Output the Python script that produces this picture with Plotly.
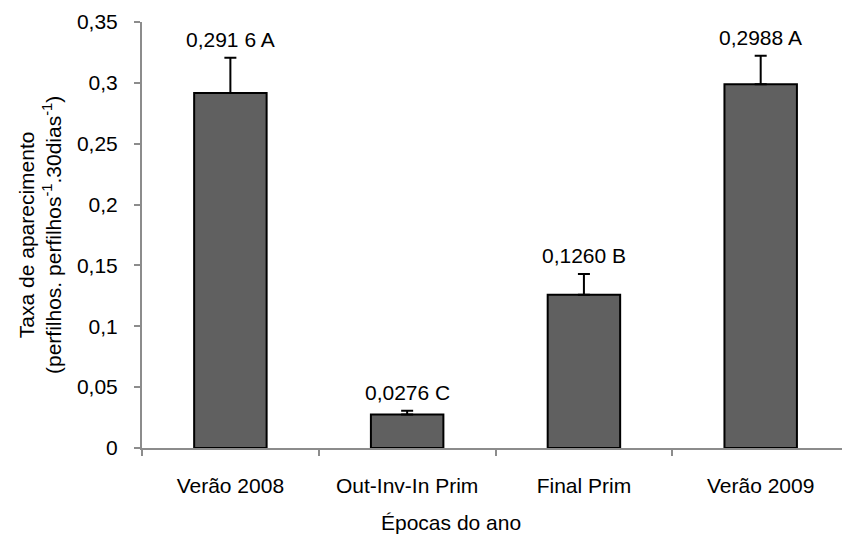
import plotly.graph_objects as go

categories = ["Verão 2008", "Out-Inv-In Prim", "Final Prim", "Verão 2009"]
values = [0.2916, 0.0276, 0.1260, 0.2988]
errors = [0.029, 0.003, 0.017, 0.0235]
bar_labels = ["0,291 6 A", "0,0276 C", "0,1260 B", "0,2988 A"]
y_tickvals = [0, 0.05, 0.1, 0.15, 0.2, 0.25, 0.3, 0.35]
y_ticktext = ["0", "0,05", "0,1", "0,15", "0,2", "0,25", "0,3", "0,35"]

FONT = "Liberation Sans, Arial, sans-serif"
FS = 21
W, H = 842, 543
L, T, B = 142, 22, 95

fig = go.Figure()
fig.add_trace(go.Bar(
    x=categories, y=values, width=0.41,
    marker=dict(color="#606060", line=dict(color="#000000", width=2)),
    error_y=dict(type="data", array=errors, visible=True, symmetric=False,
                 arrayminus=[0]*len(errors), color="#000000", thickness=2, width=6),
    showlegend=False, hoverinfo="skip",
))

for c, v, e, t in zip(categories, values, errors, bar_labels):
    fig.add_annotation(x=c, y=v + e, text=t, showarrow=False, yanchor="bottom",
                       yshift=5, font=dict(family=FONT, size=FS, color="#000"))

fig.add_annotation(xref="paper", yref="paper", x=(40 - L) / (W - L), y=0.5,
                   text="Taxa de aparecimento<br>(perfilhos. perfilhos<sup>-1</sup>.30dias<sup>-1</sup>)",
                   textangle=-90, showarrow=False, xanchor="center", yanchor="middle",
                   font=dict(family=FONT, size=FS, color="#000"))
fig.add_annotation(xref="paper", yref="paper", x=(451 - L) / (W - L), y=-(522 - (H - B)) / (H - B - T),
                   text="Épocas do ano", showarrow=False, xanchor="center", yanchor="middle",
                   font=dict(family=FONT, size=FS, color="#000"))

fig.update_layout(
    width=W, height=H, margin=dict(l=L, r=0, t=T, b=B),
    paper_bgcolor="white", plot_bgcolor="white",
    font=dict(family=FONT, size=FS, color="#000"),
    xaxis=dict(range=[-0.5, 3.46], showline=True, linecolor="#8c8c8c", linewidth=2,
               ticks="outside", tickson="boundaries", ticklen=6, tickcolor="#8c8c8c",
               tickwidth=1.5, showgrid=False, zeroline=False, ticklabelstandoff=18,
               tickfont=dict(family=FONT, size=FS, color="#000")),
    yaxis=dict(range=[0, 0.35], tickvals=y_tickvals, ticktext=y_ticktext,
               showline=True, linecolor="#8c8c8c", linewidth=2, ticks="outside",
               ticklen=6, tickcolor="#8c8c8c", tickwidth=1.5, showgrid=False,
               zeroline=False, ticklabelstandoff=12,
               tickfont=dict(family=FONT, size=FS, color="#000")),
)

fig.write_html("out.html")
